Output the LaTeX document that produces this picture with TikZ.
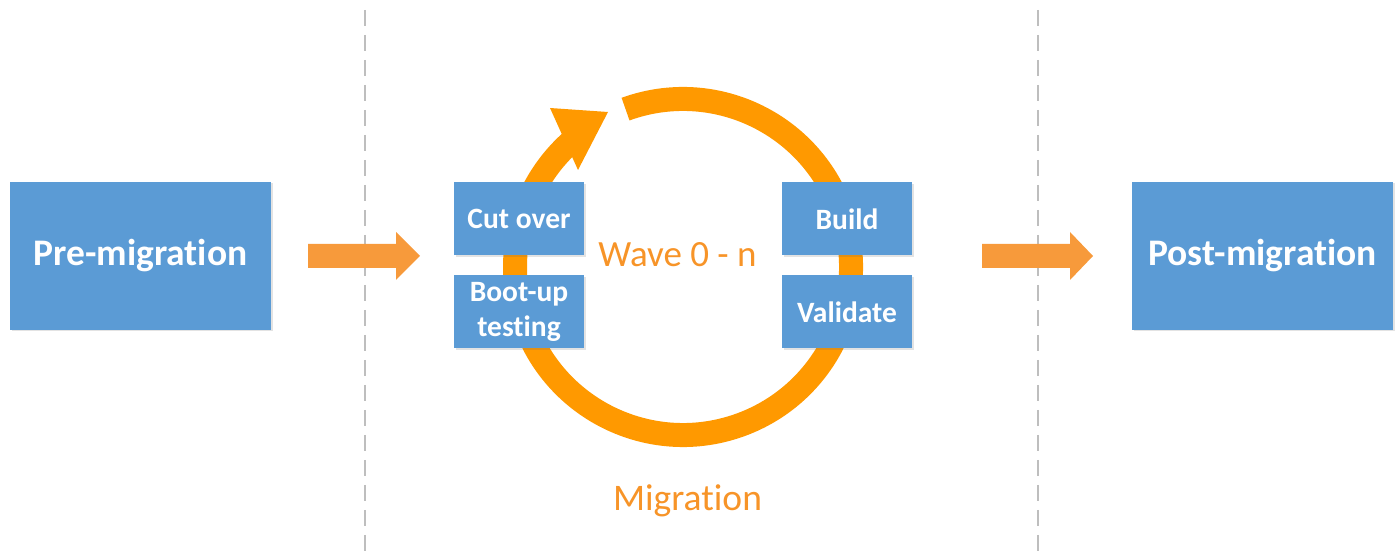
\documentclass[tikz,border=0pt]{standalone}
\usepackage{fontspec}
\setmainfont{Carlito}[Ligatures=NoCommon]
\usetikzlibrary{shadows}
\definecolor{boxblue}{RGB}{91,155,213}
\definecolor{ringorange}{RGB}{255,153,0}
\definecolor{arroworange}{RGB}{247,154,59}
\definecolor{textorange}{RGB}{247,148,40}
\definecolor{dashgray}{RGB}{190,190,190}
\begin{document}
\begin{tikzpicture}[x=1pt,y=1pt,
  boxshadow/.style={drop shadow={opacity=0.18, shadow xshift=1.5pt, shadow yshift=-1.5pt, fill=black!60}},
  bigbox/.style={fill=boxblue, draw=none, minimum width=261pt, minimum height=148pt, inner sep=0pt,
    text=white, boxshadow, font=\bfseries\fontsize{37.5}{42}\selectfont},
  smallbox/.style={fill=boxblue, draw=none, minimum width=130pt, minimum height=73pt, inner sep=0pt,
    text=white, align=center, boxshadow, font=\bfseries\fontsize{29.5}{35}\selectfont},
  divider/.style={dashgray, line width=2pt, dash pattern=on 16pt off 9pt},
  ring/.style={ringorange, line width=24pt},
  orangetext/.style={text=textorange, inner sep=0pt, anchor=base}
]
\useasboundingbox (0,0) rectangle (1395,559);

% dividers
\coordinate (d1top) at (365,549);
\coordinate (d1bot) at (365,0);
\coordinate (d2top) at (1038,549);
\coordinate (d2bot) at (1038,0);
\draw[divider] (d1top) -- (d1bot);
\draw[divider] (d2top) -- (d2bot);

% main boxes
\node[bigbox] (pre) at (140.5,303) {Pre-migration};
\node[bigbox] (post) at (1262.5,303) {Post-migration};

% side arrows
\fill[arroworange] (308,291) -- (396,291) -- (396,279) -- (420,303) -- (396,327) -- (396,315) -- (308,315) -- cycle;
\fill[arroworange] (982,291) -- (1070,291) -- (1070,279) -- (1093,303) -- (1070,327) -- (1070,315) -- (982,315) -- cycle;

% ring
\coordinate (c) at (683,292);
\draw[ring] ([shift={(110:168)}]c) arc[start angle=110, end angle=-228, radius=168];
\fill[ringorange] (550,451) -- (608,447) -- (578,389) -- cycle;

% small boxes
\node[smallbox] (cut) at (519,340) {Cut over};
\node[smallbox] (boot) at (519,247) {Boot-up\\testing};
\node[smallbox] (build) at (847,340) {Build};
\node[smallbox] (valid) at (847,247) {Validate};

% texts
\node[orangetext, font=\fontsize{37}{42}\selectfont] (wave) at (677.5,292) {Wave 0 - n};
\node[orangetext, font=\fontsize{37.5}{42}\selectfont] (mig) at (687.5,48) {Migration};
\end{tikzpicture}
\end{document}
